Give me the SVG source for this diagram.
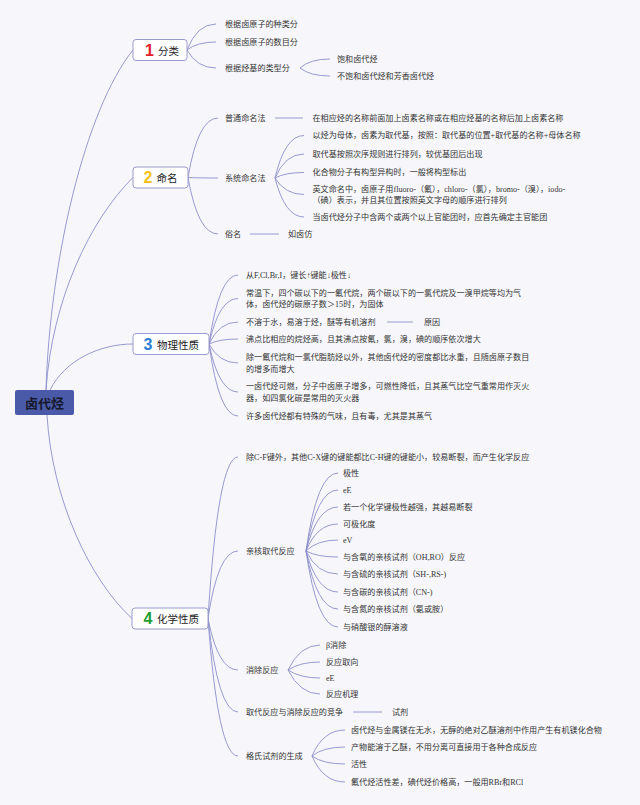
<svg xmlns="http://www.w3.org/2000/svg" width="640" height="805" viewBox="0 0 640 805">
<style>
.bg{fill:#f7f7fb}
.c{fill:none;stroke:#8c8fcc;stroke-width:0.9}
.box{fill:#ffffff;stroke:#9a9ccc;stroke-width:1}
.t{font-family:"Liberation Serif","Noto Sans CJK SC",serif;font-size:8.1px;fill:#333;dominant-baseline:central}
.nl{font-family:"Noto Sans CJK SC",sans-serif;font-size:10.5px;fill:#222;dominant-baseline:central}
.dg{font-family:"Liberation Sans","Noto Sans",sans-serif;font-size:16px;font-weight:bold;dominant-baseline:central;text-anchor:middle}
.root{font-family:"Noto Sans CJK SC",sans-serif;font-size:13px;font-weight:bold;fill:#15182a;dominant-baseline:central;text-anchor:middle}
</style>
<rect class="bg" x="0" y="0" width="640" height="805"/>
<g id="connectors">
<path class="c" d="M46,390 C50,260 85,110 133,50"/>
<path class="c" d="M46,390 C52,300 90,220 133,177.5"/>
<path class="c" d="M50,390 C65,360 100,344 133,344"/>
<path class="c" d="M47,415 C52,500 90,580 132,618.5"/>
<path class="c" d="M187,50 Q197,24 216,24"/>
<path class="c" d="M187,50 Q197,42 216,42"/>
<path class="c" d="M187,50 Q197,68 216,68"/>
<path class="c" d="M300,68 Q310,59 330,59"/>
<path class="c" d="M300,68 Q310,76 330,76"/>
<path class="c" d="M188,177.5 Q198,118 218,118"/>
<path class="c" d="M188,177.5 Q198,178 218,178"/>
<path class="c" d="M188,177.5 Q198,234 218,234"/>
<path class="c" d="M275,118 H303"/>
<path class="c" d="M275,178 Q285,135.5 304,135.5"/>
<path class="c" d="M275,178 Q285,154 304,154"/>
<path class="c" d="M275,178 Q285,172.5 304,172.5"/>
<path class="c" d="M275,178 Q285,194.5 304,194.5"/>
<path class="c" d="M275,178 Q285,217 304,217"/>
<path class="c" d="M250,234 H279"/>
<path class="c" d="M209,344 Q219,275 238,275"/>
<path class="c" d="M209,344 Q219,298.5 238,298.5"/>
<path class="c" d="M209,344 Q219,322 238,322"/>
<path class="c" d="M209,344 Q219,339 238,339"/>
<path class="c" d="M209,344 Q219,363 238,363"/>
<path class="c" d="M209,344 Q219,392 238,392"/>
<path class="c" d="M209,344 Q219,416 238,416"/>
<path class="c" d="M387,322 H413"/>
<path class="c" d="M208,618.5 Q218,457 238,457"/>
<path class="c" d="M208,618.5 Q218,551 238,551"/>
<path class="c" d="M208,618.5 Q218,670 238,670"/>
<path class="c" d="M208,618.5 Q218,712 238,712"/>
<path class="c" d="M208,618.5 Q218,756 238,756"/>
<path class="c" d="M306,551 Q317,473 338,473"/>
<path class="c" d="M306,551 Q317,490 338,490"/>
<path class="c" d="M306,551 Q317,507 338,507"/>
<path class="c" d="M306,551 Q317,524 338,524"/>
<path class="c" d="M306,551 Q317,540 338,540"/>
<path class="c" d="M306,551 Q317,557 338,557"/>
<path class="c" d="M306,551 Q317,574 338,574"/>
<path class="c" d="M306,551 Q317,592 338,592"/>
<path class="c" d="M306,551 Q317,609 338,609"/>
<path class="c" d="M306,551 Q317,627 338,627"/>
<path class="c" d="M288,670 Q300,645 320,645"/>
<path class="c" d="M288,670 Q300,662 320,662"/>
<path class="c" d="M288,670 Q300,678 320,678"/>
<path class="c" d="M288,670 Q300,694 320,694"/>
<path class="c" d="M353,712 H382"/>
<path class="c" d="M312,756 Q323,730 345,730"/>
<path class="c" d="M312,756 Q323,747 345,747"/>
<path class="c" d="M312,756 Q323,764 345,764"/>
<path class="c" d="M312,756 Q323,782 345,782"/>
</g>
<g id="root">
<rect x="15" y="390" width="59" height="25" rx="2" fill="#4a5aa8"/>
<text class="root" x="44.5" y="402.5">卤代烃</text>
</g>
<g id="n1">
<rect class="box" x="133" y="39.5" width="54" height="21" rx="3"/>
<text class="dg" x="149.5" y="50" fill="#e3202a">1</text>
<text class="nl" x="158" y="50">分类</text>
</g>
<g id="n1-children">
<text class="t" x="225" y="24">根据卤原子的种类分</text>
<text class="t" x="225" y="42">根据卤原子的数目分</text>
<text class="t" x="225" y="68">根据烃基的类型分</text>
<text class="t" x="337" y="59">饱和卤代烃</text>
<text class="t" x="337" y="76">不饱和卤代烃和芳香卤代烃</text>
</g>
<g id="n2">
<rect class="box" x="133" y="167" width="55" height="21" rx="3"/>
<text class="dg" x="148" y="177.5" fill="#f2c21a">2</text>
<text class="nl" x="156.5" y="177.5">命名</text>
</g>
<g id="n2-children">
<text class="t" x="225" y="118">普通命名法</text>
<text class="t" x="312.5" y="118">在相应烃的名称前面加上卤素名称或在相应烃基的名称后加上卤素名称</text>
<text class="t" x="225" y="178">系统命名法</text>
<text class="t" x="312.5" y="135.5">以烃为母体，卤素为取代基，按照：取代基的位置+取代基的名称+母体名称</text>
<text class="t" x="312.5" y="154">取代基按照次序规则进行排列，较优基团后出现</text>
<text class="t" x="312.5" y="172.5">化合物分子有构型异构时，一般将构型标出</text>
<text class="t" x="312.5" y="189">英文命名中，卤原子用fluoro-（氟），chloro-（氯），bromo-（溴），iodo-</text>
<text class="t" x="312.5" y="200">（碘）表示，并且其位置按照英文字母的顺序进行排列</text>
<text class="t" x="312.5" y="217">当卤代烃分子中含两个或两个以上官能团时，应首先确定主官能团</text>
<text class="t" x="225" y="234">俗名</text>
<text class="t" x="288" y="234">如卤仿</text>
</g>
<g id="n3">
<rect class="box" x="133" y="333.5" width="76" height="21" rx="3"/>
<text class="dg" x="148" y="344" fill="#2a7fd4">3</text>
<text class="nl" x="157" y="344">物理性质</text>
</g>
<g id="n3-children">
<text class="t" x="246" y="275">从F,Cl,Br,I，键长↑键能↓极性↓</text>
<text class="t" x="246" y="293">常温下，四个碳以下的一氟代烷，两个碳以下的一氯代烷及一溴甲烷等均为气</text>
<text class="t" x="246" y="304">体，卤代烃的碳原子数＞15时，为固体</text>
<text class="t" x="246" y="322">不溶于水，易溶于烃，醚等有机溶剂</text>
<text class="t" x="424" y="322">原因</text>
<text class="t" x="246" y="339">沸点比相应的烷烃高，且其沸点按氟，氯，溴，碘的顺序依次增大</text>
<text class="t" x="246" y="357">除一氟代烷和一氯代脂肪烃以外，其他卤代烃的密度都比水重，且随卤原子数目</text>
<text class="t" x="246" y="369">的增多而增大</text>
<text class="t" x="246" y="386">一卤代烃可燃，分子中卤原子增多，可燃性降低，且其蒸气比空气重常用作灭火</text>
<text class="t" x="246" y="398">器，如四氯化碳是常用的灭火器</text>
<text class="t" x="246" y="416">许多卤代烃都有特殊的气味，且有毒，尤其是其蒸气</text>
</g>
<g id="n4">
<rect class="box" x="132" y="608" width="76" height="21" rx="3"/>
<text class="dg" x="148" y="618.5" fill="#22a032">4</text>
<text class="nl" x="157" y="618.5">化学性质</text>
</g>
<g id="n4-children">
<text class="t" x="246" y="457">除C-F键外，其他C-X键的键能都比C-H键的键能小，较易断裂，而产生化学反应</text>
<text class="t" x="246" y="551">亲核取代反应</text>
<text class="t" x="343" y="473">极性</text>
<text class="t" x="343" y="490">eE</text>
<text class="t" x="343" y="507">若一个化学键极性越强，其越易断裂</text>
<text class="t" x="343" y="524">可极化度</text>
<text class="t" x="343" y="540">eV</text>
<text class="t" x="343" y="557">与含氧的亲核试剂（OH,RO）反应</text>
<text class="t" x="343" y="574">与含硫的亲核试剂（SH-,RS-)</text>
<text class="t" x="343" y="592">与含碳的亲核试剂（CN-)</text>
<text class="t" x="343" y="609">与含氮的亲核试剂（氨或胺）</text>
<text class="t" x="343" y="627">与硝酸银的醇溶液</text>
<text class="t" x="246" y="670">消除反应</text>
<text class="t" x="326" y="645">β消除</text>
<text class="t" x="326" y="662">反应取向</text>
<text class="t" x="326" y="678">eE</text>
<text class="t" x="326" y="694">反应机理</text>
<text class="t" x="246" y="712">取代反应与消除反应的竞争</text>
<text class="t" x="392" y="712">试剂</text>
<text class="t" x="246" y="756">格氏试剂的生成</text>
<text class="t" x="351" y="730">卤代烃与金属镁在无水，无醇的绝对乙醚溶剂中作用产生有机镁化合物</text>
<text class="t" x="351" y="747">产物能溶于乙醚，不用分离可直接用于各种合成反应</text>
<text class="t" x="351" y="764">活性</text>
<text class="t" x="351" y="782">氟代烃活性差，碘代烃价格高，一般用RBr和RCl</text>
</g>
</svg>
